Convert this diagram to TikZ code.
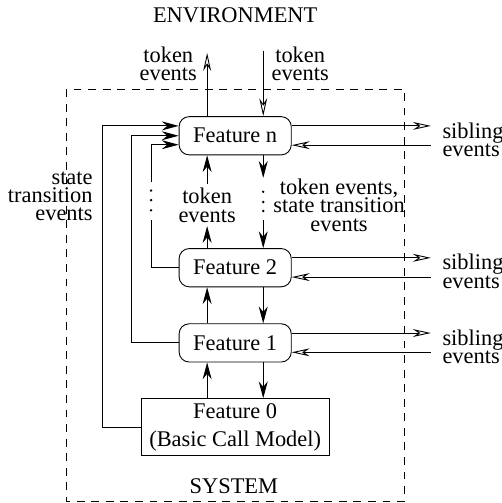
\documentclass[tikz,border=0pt]{standalone}
\usepackage{fontspec}
\setmainfont{Liberation Serif}
\usetikzlibrary{arrows.meta}

\tikzset{
    feat/.style={draw, rounded corners=4.5pt, minimum width=1.76cm, minimum height=0.6cm, inner sep=0pt},
    basic/.style={draw, minimum width=2.95cm, minimum height=0.89cm, inner sep=0pt, align=center, font=\fontsize{10}{12.5}\selectfont},
    lbl/.style={inner sep=0pt, font=\fontsize{10}{8.2}\selectfont},
    flow/.style={-{Stealth[length=7.5pt, width=4pt]}},
    ext/.style={-{Stealth[open, length=8pt, width=3.5pt]}},
}

\begin{document}
\begin{tikzpicture}
        \useasboundingbox (0, 0) rectangle (7.876, -7.892);
        \draw[dash pattern=on 3.5pt off 3pt] (1.04, -1.40) rectangle (6.35, -7.86);

        \node (env) at (3.69, -0.24) {ENVIRONMENT};
        \node (sys) at (3.67, -7.63) {SYSTEM};

        \node[feat] (fn) at (3.69, -2.13) {Feature n};
        \node[feat] (f2) at (3.69, -4.20) {Feature 2};
        \node[feat] (f1) at (3.69, -5.38) {Feature 1};
        \node[basic] (f0) at (3.69, -6.70) {Feature 0\\(Basic Call Model)};

        % environment
        \coordinate (tokout) at (3.25, -0.83);
        \coordinate (tokin) at (4.13, -0.80);
        \draw[ext] (tokout |- fn.north) -- (tokout);
        \draw[ext] (tokin) -- (tokin |- fn.north);
        \node[lbl, align=center] (tokoutl) at (2.64, -1.00) {token\\events};
        \node[lbl, align=center] (tokinl) at (4.71, -1.00) {token\\events};

        % up the stack
        \node[lbl, align=center, inner sep=1.5pt] (tokmid) at (3.25, -3.22) {token\\events};
        \draw[flow] (f2.north -| tokmid) -- (tokmid.south);
        \draw[flow] (tokmid.north) -- (fn.south -| tokmid);
        \draw[flow] (f1.north -| tokmid) -- (f2.south -| tokmid);
        \draw[flow] (f0.north -| tokmid) -- (f1.south -| tokmid);

        % down the stack
        \coordinate (rtop) at (4.13, -2.79);
        \coordinate (rbot) at (4.13, -3.45);
        \draw[flow] (fn.south -| rtop) -- (rtop);
        \draw[flow] (rbot) -- (f2.north -| rbot);
        \draw[flow] (f2.south -| rbot) -- (f1.north -| rbot);
        \draw[flow] (f1.south -| rbot) -- (f0.north -| rbot);
        \fill (4.13, -3.01) circle (0.6pt) (4.13, -3.17) circle (0.6pt) (4.13, -3.31) circle (0.6pt);
        \node[lbl, align=center] (tokstl) at (5.32, -3.22) {token events,\\state transition\\events};

        % state transitions
        \coordinate (ltop) at (2.37, -2.86);
        \coordinate (lbot) at (2.37, -3.45);
        \draw (f2.west) -| (lbot);
        \draw[flow] (ltop) |- ([yshift=-4pt]fn.west);
        \fill (2.37, -2.99) circle (0.6pt) (2.37, -3.14) circle (0.6pt) (2.37, -3.30) circle (0.6pt);
        \draw[flow] (f1.west) -- ++(-0.74, 0) |- (fn.west);
        \draw[flow] (f0.west) -- ++(-0.60, 0) |- ([yshift=4.4pt]fn.west);
        \node[lbl, align=right, anchor=east] (statel) at (1.46, -3.08) {state\\transition\\events};

        % siblings
        \node[lbl, align=left, anchor=west, inner xsep=5pt] (sibn) at (6.76, -2.19) {sibling\\events};
        \node[lbl, align=left, anchor=west, inner xsep=5pt] (sib2) at (6.76, -4.26) {sibling\\events};
        \node[lbl, align=left, anchor=west, inner xsep=5pt] (sib1) at (6.76, -5.44) {sibling\\events};
        \draw[ext] ([yshift=4.4pt]fn.east) -- ([yshift=4.4pt]fn.east -| sibn.west);
        \draw[ext] ([yshift=-4.2pt]fn.east -| sibn.west) -- ([yshift=-4.2pt]fn.east);
        \draw[ext] ([yshift=4.4pt]f2.east) -- ([yshift=4.4pt]f2.east -| sib2.west);
        \draw[ext] ([yshift=-4.2pt]f2.east -| sib2.west) -- ([yshift=-4.2pt]f2.east);
        \draw[ext] ([yshift=4.4pt]f1.east) -- ([yshift=4.4pt]f1.east -| sib1.west);
        \draw[ext] ([yshift=-4.2pt]f1.east -| sib1.west) -- ([yshift=-4.2pt]f1.east);
\end{tikzpicture}
\end{document}
